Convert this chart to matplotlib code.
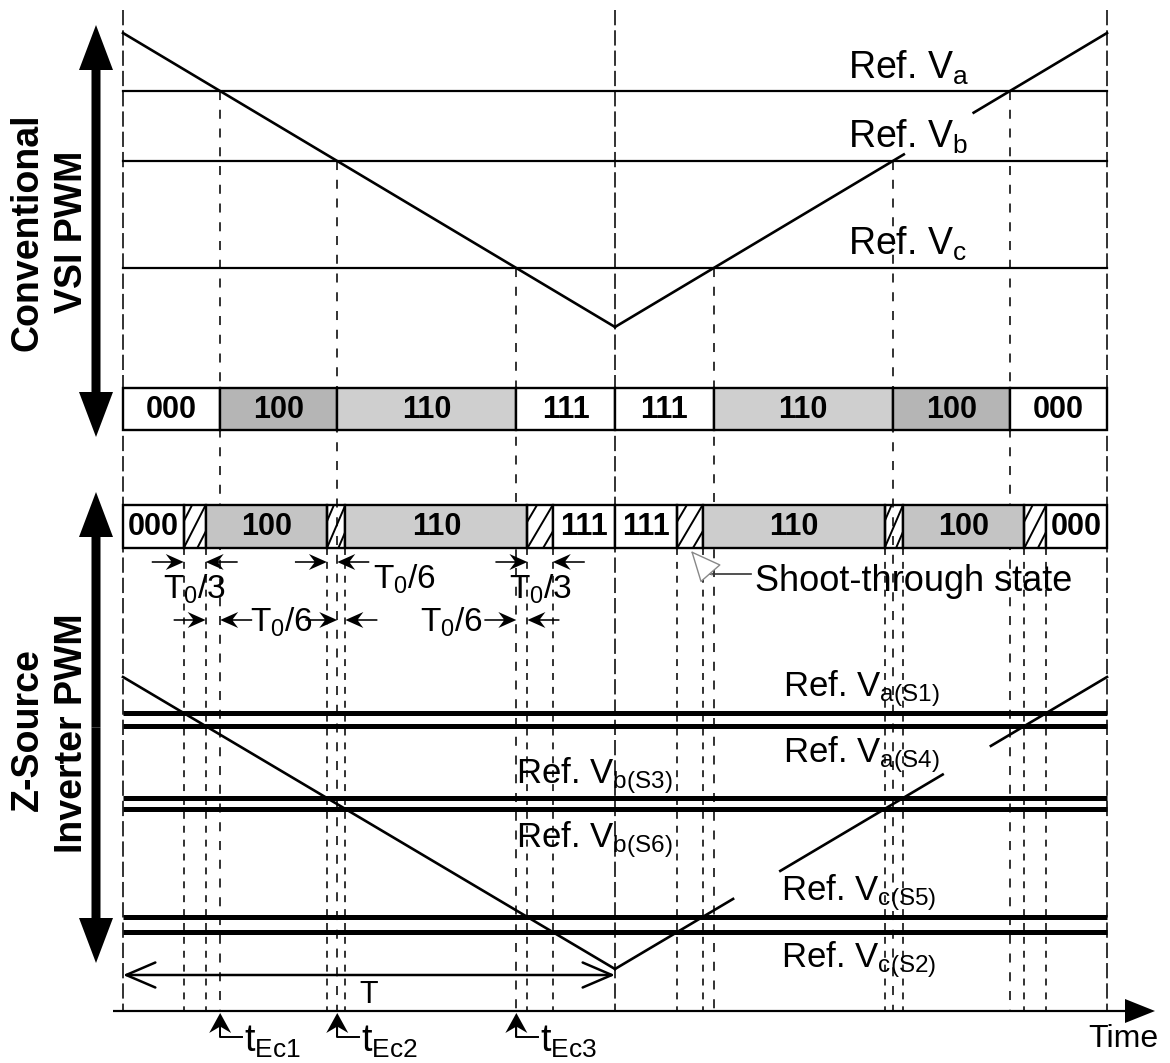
import matplotlib
matplotlib.use('Agg')
import matplotlib.pyplot as plt
import matplotlib.patches as mpatches

plt.rcParams['font.family'] = ['Liberation Sans', 'DejaVu Sans']
plt.rcParams['mathtext.fontset'] = 'custom'
plt.rcParams['mathtext.rm'] = 'Liberation Sans'
plt.rcParams['mathtext.it'] = 'Liberation Sans:italic'
plt.rcParams['mathtext.bf'] = 'Liberation Sans:bold'
plt.rcParams['lines.scale_dashes'] = False

# ---- data (time in carrier half-periods, voltages normalised to carrier peak) ----
carrier_t = [0.0, 1.0, 2.0]
carrier_v = [1.0, -1.0, 1.0]

ref_top_names = ['a', 'b', 'c']
ref_top_vals = [0.605, 0.129, -0.599]

ref_bot_names = ['a(S1)', 'a(S4)', 'b(S3)', 'b(S6)', 'c(S5)', 'c(S2)']
ref_bot_vals = [0.753, 0.664, 0.171, 0.096, -0.644, -0.747]

states_top = ['000', '100', '110', '111', '111', '110', '100', '000']
states_bot = ['000', 'ST', '100', 'ST', '110', 'ST', '111',
              '111', 'ST', '110', 'ST', '100', 'ST', '000']

# carrier pieces hidden behind labels (time intervals)
gaps_top = [(1.587, 1.729)]
gaps_bot = [(1.240, 1.336), (1.666, 1.764)]


def t_down(v):
    return (1 - v) / 2


def t_up(v):
    return (3 + v) / 2


def carrier(t):
    return 1 - 2 * t if t <= 1 else 2 * t - 3


# ---- layout (pixel coordinates) ----
def px(t):
    return 123 + 492 * t


def py_top(v):
    return 180 - 147 * v


def py_bot(v):
    return 823 - 146 * v


AXIS_Y = 1011
fig = plt.figure(figsize=(11.7, 10.63), dpi=100)
ax = fig.add_axes([0, 0, 1, 1])
ax.set_xlim(0, 1170)
ax.set_ylim(1063, 0)
ax.axis('off')

dash_long = (0, (11, 3.6))
dash_mid = (0, (6.5, 7))
dash_short = (0, (5, 5))

# boundary dashed lines
for t in carrier_t:
    ax.plot([px(t), px(t)], [10, AXIS_Y], color='#222', lw=1.3, linestyle=dash_long, zorder=1)

# conventional crossing times
for v in ref_top_vals:
    for t in (t_down(v), t_up(v)):
        ax.plot([px(t), px(t)], [py_top(v), AXIS_Y], color='#222', lw=1.3,
                linestyle=dash_mid, zorder=1)

# z-source crossing times
for v in ref_bot_vals:
    for t in (t_down(v), t_up(v)):
        ax.plot([px(t), px(t)], [548, AXIS_Y], color='#222', lw=1.3,
                linestyle=dash_short, zorder=1)


def draw_carrier(py, gaps):
    pieces = [(0.0, 1.0)]
    start = 1.0
    for g0, g1 in gaps:
        pieces.append((start, g0))
        start = g1
    pieces.append((start, 2.0))
    for a, b in pieces:
        ax.plot([px(a), px(b)], [py(carrier(a)), py(carrier(b))], color='k', lw=1.9, zorder=3)


# ---- top: conventional ----
for name, v in zip(ref_top_names, ref_top_vals):
    ax.plot([px(0), px(2)], [py_top(v), py_top(v)], color='k', lw=1.6, zorder=2)
draw_carrier(py_top, gaps_top)

ref_top_base = [79, 148, 255]
for name, yb in zip(ref_top_names, ref_top_base):
    ax.text(848, yb, r'Ref. V$_{\rm %s}$' % name, fontsize=27, va='baseline', ha='left')

tt = sorted(t_down(v) for v in ref_top_vals)
bounds_top = [0.0] + tt + [1.0] + [2 - t for t in reversed(tt)] + [2.0]
fill_top = {'000': 'white', '111': 'white', '100': '#b5b5b5', '110': '#cfcfcf'}
for i, s in enumerate(states_top):
    x0, x1 = px(bounds_top[i]), px(bounds_top[i + 1])
    ax.add_patch(mpatches.Rectangle((x0, 388), x1 - x0, 42, facecolor=fill_top[s],
                                    edgecolor='k', lw=1.7, zorder=4))
    ax.text((x0 + x1) / 2, 410, s, fontsize=22, fontweight='bold', ha='center', va='center', zorder=5)

# ---- bottom: z-source ----
for v in ref_bot_vals:
    ax.plot([px(0), px(2)], [py_bot(v), py_bot(v)], color='k', lw=3.6, zorder=2,
            solid_capstyle='butt')
draw_carrier(py_bot, gaps_bot)

ref_bot_pos = [(783, 696), (783, 762), (516, 783), (516, 847), (781, 900), (781, 967)]
for name, (x, yb) in zip(ref_bot_names, ref_bot_pos):
    ax.text(x, yb, r'Ref. V$_{\rm %s}$' % name, fontsize=25, va='baseline', ha='left')

tb = sorted(t_down(v) for v in ref_bot_vals)
bounds_bot = [0.0] + tb + [1.0] + [2 - t for t in reversed(tb)] + [2.0]
fill_bot = {'000': 'white', '111': 'white', '100': '#c4c4c4', '110': '#cdcdcd'}
for i, s in enumerate(states_bot):
    x0, x1 = px(bounds_bot[i]), px(bounds_bot[i + 1])
    if s == 'ST':
        rect = mpatches.Rectangle((x0, 505), x1 - x0, 43, facecolor='none',
                                  edgecolor='k', lw=1.7, zorder=4)
        ax.add_patch(rect)
        w = x1 - x0
        for off in (-0.62 * w, 0, 0.62 * w):
            ln, = ax.plot([x0 + off, x1 + off], [548, 505], color='k', lw=1.4, zorder=4)
            ln.set_clip_path(rect)
    else:
        ax.add_patch(mpatches.Rectangle((x0, 505), x1 - x0, 43, facecolor=fill_bot[s],
                                        edgecolor='k', lw=1.7, zorder=4))
        ax.text((x0 + x1) / 2, 527, s, fontsize=22, fontweight='bold', ha='center',
                va='center', zorder=5)


# T0 interval markers
def pointer(tip, y, direction):
    ax.add_patch(mpatches.FancyArrow(tip - 32 * direction, y, 32 * direction, 0, width=1.6,
                                     head_width=16, head_length=18, overhang=0.3,
                                     length_includes_head=True, color='k', lw=0, zorder=5))


a1, a4, b3, b6, c5, c2 = tb
ta, tbc, tc = tt
row1, row2 = 562, 620
intervals = [(a1, a4, row1), (b3, tbc, row1), (tbc, b6, row2),
             (c5, c2, row1), (a4, ta, row2), (tc, c5, row2)]
for l, r, y in intervals:
    pointer(px(l), y, 1)
    pointer(px(r), y, -1)

ax.text((px(a1) + px(a4)) / 2, 599, r'T$_{\rm 0}$/3', fontsize=24, ha='center', va='baseline')
ax.text((px(c5) + px(c2)) / 2, 599, r'T$_{\rm 0}$/3', fontsize=24, ha='center', va='baseline')
ax.text(373, 589, r'T$_{\rm 0}$/6', fontsize=24, ha='left', va='baseline')
ax.text(px(ta) + 30, 632, r'T$_{\rm 0}$/6', fontsize=24, ha='left', va='baseline')
ax.text(px(tc) - 33, 632, r'T$_{\rm 0}$/6', fontsize=24, ha='right', va='baseline')

# shoot-through annotation
ax.plot([751, 710], [574, 574], color='#333', lw=1.2, zorder=5)
ax.annotate('', xy=(691, 551), xytext=(712, 575),
            arrowprops=dict(arrowstyle='-|>,head_length=1.0,head_width=0.45', fc='white',
                            ec='#888', lw=1.0, mutation_scale=20, shrinkA=0, shrinkB=0), zorder=5)
ax.text(755, 591, 'Shoot-through state', fontsize=26, ha='left', va='baseline')

# period T
ax.annotate('', xy=(px(1), 975), xytext=(px(0), 975),
            arrowprops=dict(arrowstyle='<->,head_length=0.7,head_width=0.3', color='k', lw=1.8,
                            mutation_scale=30, shrinkA=0, shrinkB=0), zorder=5)
ax.text((px(0) + px(1)) / 2, 1003, 'T', fontsize=22, ha='center', va='baseline')

# time axis
ax.add_patch(mpatches.FancyArrow(113, AXIS_Y, 1155 - 113, 0, width=2.2, head_width=24,
                                  head_length=30, length_includes_head=True, color='k', lw=0,
                                  zorder=5))
ax.text(1088, 1047, 'Time', fontsize=23, ha='left', va='baseline')

# t_Ec markers
for i, t in enumerate(tt):
    x = px(t)
    ax.plot([x, x, x + 22], [1020, 1037, 1037], color='k', lw=1.4, zorder=5)
    ax.add_patch(mpatches.FancyArrow(x, 1037, 0, 1013 - 1037, width=1.6, head_width=22,
                                     head_length=20, overhang=0.3, length_includes_head=True,
                                     color='k', lw=0, zorder=5))
    ax.text(x + 24, 1052, r't$_{\rm Ec%d}$' % (i + 1), fontsize=27, ha='left', va='baseline')


# big side arrows and section titles
def side_arrow(y_top, y_bot):
    mid = (y_top + y_bot) / 2
    for y_tip in (y_top, y_bot):
        ax.add_patch(mpatches.FancyArrow(96, mid, 0, y_tip - mid, width=9, head_width=34,
                                         head_length=45, length_includes_head=True,
                                         color='k', lw=0))


side_arrow(25, 437)
side_arrow(492, 963)
ax.text(28, 232, 'Conventional', fontsize=27, fontweight='bold', rotation=90,
        ha='center', va='center')
ax.text(72, 232, 'VSI PWM', fontsize=27, fontweight='bold', rotation=90,
        ha='center', va='center')
ax.text(28, 730, 'Z-Source', fontsize=27, fontweight='bold', rotation=90,
        ha='center', va='center')
ax.text(72, 733, 'Inverter PWM', fontsize=27, fontweight='bold', rotation=90,
        ha='center', va='center')

fig.savefig('out.png', dpi=100)
